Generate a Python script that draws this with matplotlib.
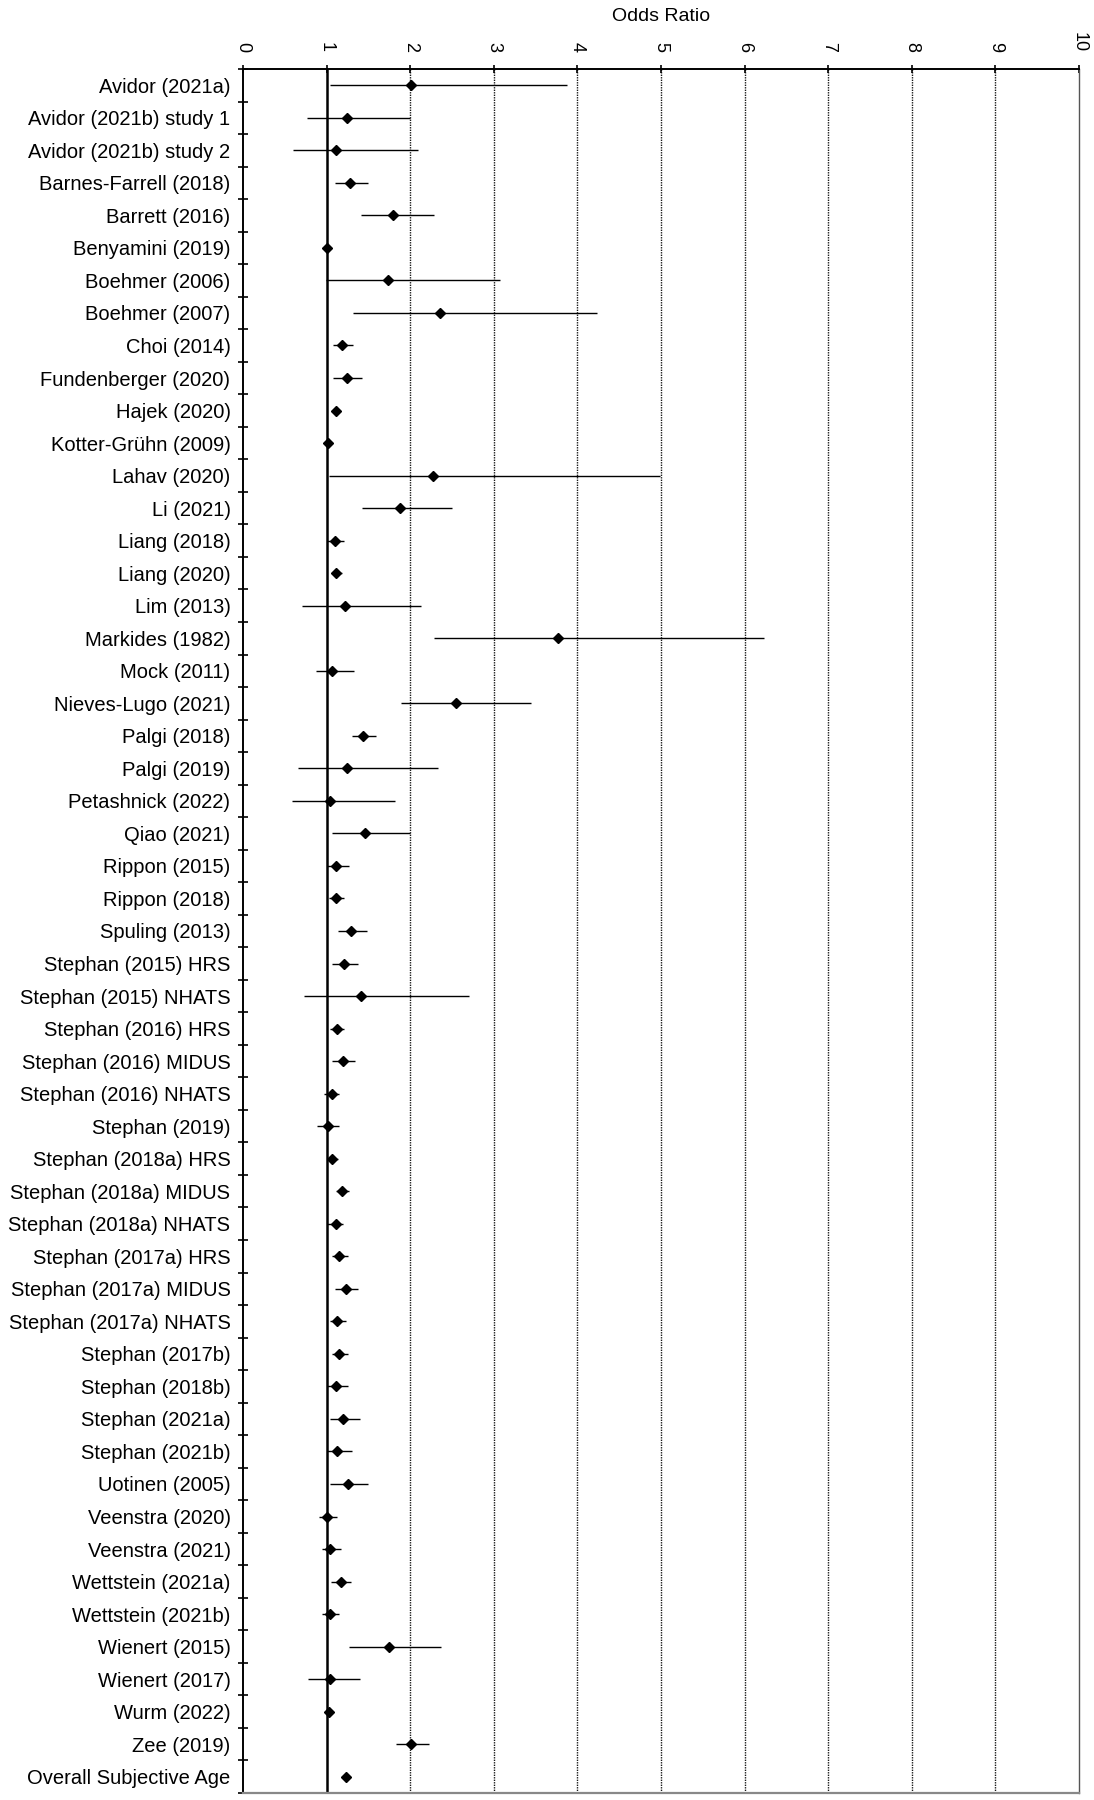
import numpy as np
import matplotlib
matplotlib.use("Agg")
import matplotlib.pyplot as plt

plt.rcParams['font.family'] = ['Liberation Sans', 'DejaVu Sans']

studies = [
    "Avidor (2021a)", "Avidor (2021b) study 1", "Avidor (2021b) study 2",
    "Barnes-Farrell (2018)", "Barrett (2016)", "Benyamini (2019)",
    "Boehmer (2006)", "Boehmer (2007)", "Choi (2014)", "Fundenberger (2020)",
    "Hajek (2020)", "Kotter-Grühn (2009)", "Lahav (2020)", "Li (2021)",
    "Liang (2018)", "Liang (2020)", "Lim (2013)", "Markides (1982)",
    "Mock (2011)", "Nieves-Lugo (2021)", "Palgi (2018)", "Palgi (2019)",
    "Petashnick (2022)", "Qiao (2021)", "Rippon (2015)", "Rippon (2018)",
    "Spuling (2013)", "Stephan (2015) HRS", "Stephan (2015) NHATS",
    "Stephan (2016) HRS", "Stephan (2016) MIDUS", "Stephan (2016) NHATS",
    "Stephan (2019)", "Stephan (2018a) HRS", "Stephan (2018a) MIDUS",
    "Stephan (2018a) NHATS", "Stephan (2017a) HRS", "Stephan (2017a) MIDUS",
    "Stephan (2017a) NHATS", "Stephan (2017b)", "Stephan (2018b)",
    "Stephan (2021a)", "Stephan (2021b)", "Uotinen (2005)", "Veenstra (2020)",
    "Veenstra (2021)", "Wettstein (2021a)", "Wettstein (2021b)",
    "Wienert (2015)", "Wienert (2017)", "Wurm (2022)", "Zee (2019)",
    "Overall Subjective Age",
]

odds = [2.01, 1.24, 1.11, 1.28, 1.80, 1.01, 1.74, 2.36, 1.19, 1.24,
        1.11, 1.02, 2.27, 1.88, 1.10, 1.11, 1.22, 3.77, 1.07, 2.55,
        1.44, 1.24, 1.04, 1.46, 1.11, 1.11, 1.29, 1.21, 1.41, 1.12,
        1.20, 1.06, 1.02, 1.06, 1.19, 1.11, 1.15, 1.23, 1.12, 1.15,
        1.11, 1.20, 1.13, 1.25, 1.01, 1.04, 1.17, 1.04, 1.75, 1.04,
        1.03, 2.01, 1.23]

ci_low = [1.04, 0.77, 0.60, 1.10, 1.41, 0.99, 0.99, 1.31, 1.08, 1.08,
          1.08, 1.00, 1.03, 1.42, 1.01, 1.07, 0.71, 2.29, 0.87, 1.89,
          1.30, 0.66, 0.59, 1.07, 1.00, 1.03, 1.14, 1.06, 0.73, 1.04,
          1.06, 0.97, 0.89, 1.02, 1.11, 1.00, 1.06, 1.10, 1.04, 1.06,
          1.00, 1.04, 1.00, 1.04, 0.91, 0.94, 1.05, 0.94, 1.27, 0.78,
          0.98, 1.83, 1.20]

ci_high = [3.88, 2.00, 2.09, 1.49, 2.29, 1.03, 3.07, 4.23, 1.31, 1.42,
           1.14, 1.04, 4.99, 2.50, 1.21, 1.19, 2.13, 6.23, 1.33, 3.44,
           1.59, 2.33, 1.82, 2.00, 1.27, 1.21, 1.48, 1.38, 2.70, 1.21,
           1.34, 1.15, 1.15, 1.14, 1.27, 1.20, 1.26, 1.37, 1.23, 1.26,
           1.25, 1.40, 1.30, 1.50, 1.12, 1.17, 1.29, 1.15, 2.37, 1.40,
           1.08, 2.22, 1.26]

y = np.arange(len(studies))

fig = plt.figure(figsize=(10.94, 18), dpi=100)
ax = fig.add_axes([243/1094, 1 - 1793/1800, (1079 - 243)/1094, (1793 - 69)/1800])

# dotted grid at each integer, solid reference line at OR = 1
for gx in range(2, 10):
    ax.axvline(gx, color='#1a1a1a', lw=1.0, ls=(0, (1, 0.8)), zorder=1)
ax.axvline(1, color='black', lw=1.8, zorder=2)

ax.hlines(y, ci_low, ci_high, color='black', lw=1.0, zorder=3)
ax.plot(odds, y, ls='none', marker='D', ms=4.8, color='black', zorder=4)

ax.set_xlim(0, 10)
ax.set_ylim(len(studies) - 0.5, -0.5)

ax.xaxis.tick_top()
ax.xaxis.set_label_position('top')
ax.set_xticks(range(0, 11))
ax.set_xticklabels([str(i) for i in range(0, 11)], rotation=-90, fontsize=13)
ax.tick_params(axis='x', direction='inout', length=6, width=1.2, pad=9)
ax.set_xlabel("Odds Ratio", fontsize=14, labelpad=8)

ax.set_yticks(y)
ax.set_yticklabels(studies, fontsize=14.5)
ax.tick_params(axis='y', which='major', length=0, pad=9)
ax.set_yticks(np.arange(-0.5, len(studies), 1), minor=True)
ax.tick_params(axis='y', which='minor', direction='inout', length=7, width=1.2)

for side in ['top', 'left']:
    ax.spines[side].set_linewidth(1.4)
ax.spines['right'].set_linewidth(1.0)
ax.spines['right'].set_color('#555555')
ax.spines['bottom'].set_linewidth(1.6)
ax.spines['bottom'].set_color('#888888')

fig.savefig("out.png", dpi=100)
